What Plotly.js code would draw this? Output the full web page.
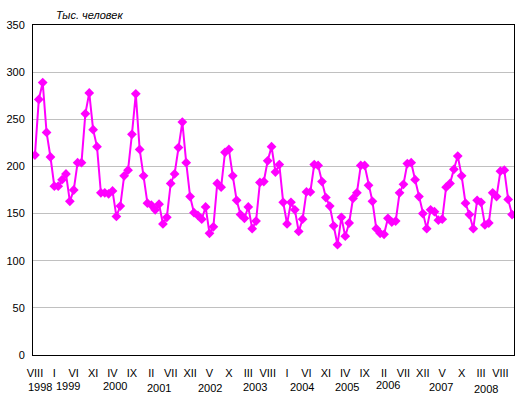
<!DOCTYPE html>
<html>
<head>
<meta charset="utf-8">
<script src="https://cdn.plot.ly/plotly-3.0.1.min.js"></script>
<style>html,body{margin:0;padding:0;background:#fff;}#chart{width:529px;height:408px;}</style>
</head>
<body>
<div id="chart"></div>
<script>
// Monthly values, Aug 1998 .. Nov 2008 (thousand persons)
const values = [
  212, 271, 289, 236, 210, 179, 179, 186, 192, 163, 175, 204, 204, 256, 278, 239, 221,
  172, 172, 171, 174, 147, 158, 190, 196, 234, 277, 218, 190, 161, 159, 154, 160, 139,
  146, 182, 192, 220, 247, 204, 168, 151, 148, 144, 157, 129, 136, 182, 178, 215, 218,
  190, 164, 149, 145, 157, 134, 142, 183, 184, 206, 221, 194, 202, 162, 139, 162, 154,
  131, 144, 173, 173, 202, 201, 184, 167, 158, 137, 117, 146, 126, 140, 166, 172, 201,
  201, 180, 163, 134, 129, 128, 145, 141, 142, 172, 181, 203, 204, 186, 168, 150, 134,
  154, 152, 143, 144, 178, 182, 197, 211, 190, 161, 149, 134, 164, 162, 138, 140, 172,
  168, 195, 196, 165, 149
];
const monthIndex = values.map((v, i) => i);
const tickPositions = [0,5,10,15,20,25,30,35,40,45,50,55,60,65,70,75,80,85,90,95,100,105,110,115,120];
const tickLabels = ["VIII","I","VI","XI","IV","IX","II","VII","XII","V","X","III",
                    "VIII","I","VI","XI","IV","IX","II","VII","XII","V","X","III","VIII"];
const yearLabels = ["1998","1999","2000","2001","2002","2003","2004","2005","2006","2007","2008"];
const yearPositions = [1.3, 8.5, 20.6, 32, 45.1, 56.7, 68.9, 80.5, 90.9, 104.8, 116.3];
const yearShifts = [-32, -31, -31, -33, -33, -32, -32, -32, -30, -32, -34];
const yTitle = "Тыс. человек";

const font = {family: "Liberation Sans, Arial, sans-serif", size: 11, color: "#000"};

const trace = {
  x: monthIndex,
  y: values,
  type: "scatter",
  mode: "lines+markers",
  line: {color: "#FF00FF", width: 2},
  marker: {symbol: "diamond", size: 7.5, color: "#FF00FF"},
  hoverinfo: "none"
};

const annotations = yearLabels.map((t, k) => ({
  x: yearPositions[k], xref: "x", y: 0, yref: "paper",
  yshift: yearShifts[k], text: t, showarrow: false,
  xanchor: "center", yanchor: "middle", font: font
}));
annotations.push({
  x: 14, xref: "x", y: 1, yref: "paper", yshift: 10,
  text: "<i>" + yTitle + "</i>", showarrow: false,
  xanchor: "center", yanchor: "middle", font: font
});

const layout = {
  width: 529, height: 408,
  margin: {l: 33, r: 15, t: 25, b: 53, pad: 0},
  paper_bgcolor: "#fff", plot_bgcolor: "#fff",
  showlegend: false,
  font: font,
  xaxis: {
    range: [-0.5, 123.5],
    tickmode: "array", tickvals: tickPositions, ticktext: tickLabels,
    ticks: "", showgrid: false, zeroline: false,
    showline: true, linecolor: "#000", linewidth: 1, mirror: true,
    ticklabelstandoff: 8, tickangle: 0, tickfont: font
  },
  yaxis: {
    range: [0, 350], dtick: 50, tick0: 0,
    ticks: "", showgrid: true, gridcolor: "#c0c0c0", gridwidth: 1, zeroline: false,
    showline: true, linecolor: "#000", linewidth: 1, mirror: true,
    ticklabelstandoff: 5, tickfont: font
  },
  annotations: annotations
};

Plotly.newPlot("chart", [trace], layout, {displayModeBar: false, staticPlot: true});
</script>
</body>
</html>
